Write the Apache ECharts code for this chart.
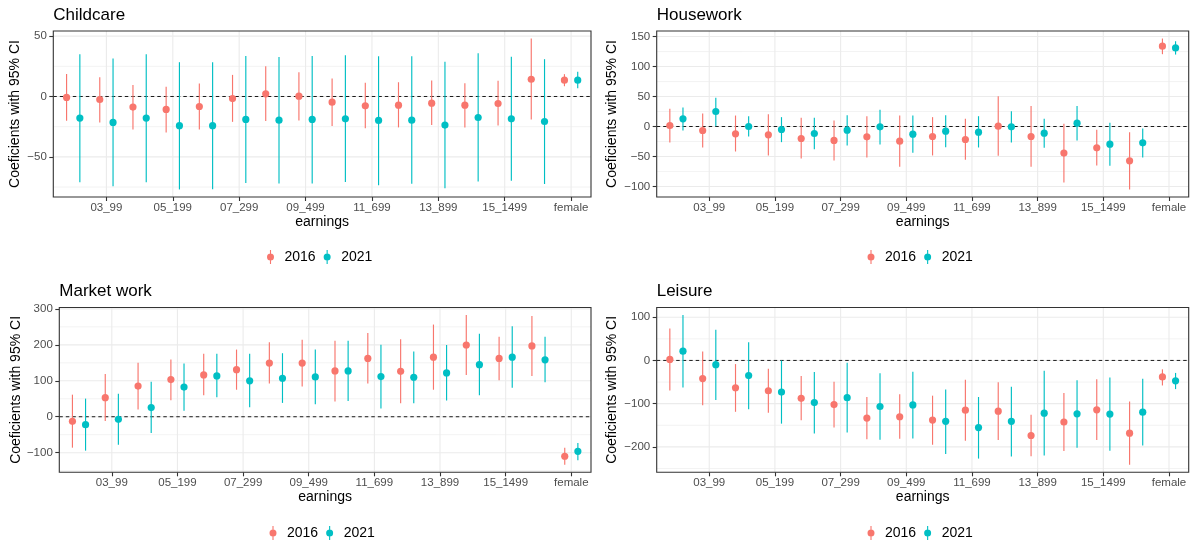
<!DOCTYPE html>
<html><head><meta charset="utf-8">
<script src="https://cdn.jsdelivr.net/npm/echarts@6/dist/echarts.min.js"></script>
<style>html,body{margin:0;padding:0;background:#fff}#c{width:1195px;height:545px}</style>
</head><body><div id="c"></div>
<script>
// ---------------- DATA ----------------
const categories = ['02_49','03_99','04_149','05_199','06_249','07_299','08_399','09_499','10_599','11_699','12_799','13_899','14_999','15_1499','16_1500','female'];
const xLabelPositions = [1,3,5,7,9,11,13,15];
const years = ['2016','2021'];

// Childcare
const childcareEst2016 = [-0.8,-2.5,-8.8,-10.7,-8.3,-1.7,2.2,0.3,-4.7,-7.7,-7.2,-5.5,-7.2,-5.8,14.3,13.5];
const childcareLo2016  = [-20,-21.5,-27.3,-29.8,-27.3,-21,-20.4,-19.8,-24.5,-26.4,-25.6,-23.7,-25.6,-24,-19,8.5];
const childcareHi2016  = [18.7,16,9.6,8,10.7,17.9,25,20,14.9,11.3,11.8,13.2,11,13,48,18.5];
const childcareEst2021 = [-17.9,-21.5,-17.9,-24.2,-24.2,-19,-19.6,-19,-18.5,-19.8,-19.6,-23.7,-17.4,-18.5,-20.7,13.5];
const childcareLo2021  = [-71,-74.4,-71,-77,-76.9,-71.6,-72,-72,-70.8,-73.6,-72.2,-76,-70.5,-69.7,-72.5,6.9];
const childcareHi2021  = [35,31.4,35,28.4,28.4,33.6,32.8,33.6,34.2,33.3,33.3,28.7,35.8,33,30.9,20.4];
const childcareTicks = [-50,0,50];
const childcareMinorTicks = [-75,-25,25];

// Housework
const houseworkEst2016 = [1.7,-6.7,-12.2,-13.9,-20,-23.3,-17.2,-24.4,-16.7,-21.7,0.6,-16.7,-44.4,-35.6,-57.2,133.9];
const houseworkLo2016  = [-26.7,-35,-41.7,-48.3,-53.3,-56.7,-51.7,-67.2,-48.3,-55.6,-48.9,-67.2,-93.3,-65,-105,120.6];
const houseworkHi2016  = [29.4,21.7,18.3,20.6,14.4,10,17.2,18.3,15.6,12.8,50.6,34.4,4.4,-5.6,-9.4,146.7];
const houseworkEst2021 = [12.8,25,0,-5,-11.7,-6.1,-0.6,-12.8,-7.8,-9.4,-0.6,-11.1,5.6,-29.4,-27.2,131.1];
const houseworkLo2021  = [-6.7,0.6,-16.7,-26.1,-37.8,-31.7,-30,-43.9,-34.4,-35,-26.7,-35.6,-23.3,-65.6,-51.7,120];
const houseworkHi2021  = [31.7,47.8,17.2,15.6,14.4,18.9,27.8,18.3,18.9,17.2,25.6,12.8,34.4,6.1,-3.3,142.2];
const houseworkTicks = [-100,-50,0,50,100,150];
const houseworkMinorTicks = [-75,-25,25,75,125];

// Market work
const marketEst2016 = [-12.8,53.1,85.2,103.5,116.3,131,149.3,149.3,127.3,162.1,126.4,165.8,199.6,162.1,196.9,-109.9];
const marketLo2016  = [-86,-11.9,20.1,45.8,59.5,75.1,92.5,84.2,42.1,92.5,37.5,75.1,116.3,101.6,113.6,-133.7];
const marketHi2016  = [61.4,119,150.2,159.3,174.9,186.8,207,214.3,211.5,232.6,215.5,256.4,283,222.5,280.2,-86];
const marketEst2021 = [-22,-7.3,25.6,82.4,113.6,99.8,107.1,110.8,127.3,111.7,109.9,121.8,144.7,165.8,158.4,-96.2];
const marketLo2021  = [-94.3,-77.8,-44.9,16.5,54,26.6,38.5,34.8,44,22.9,37.5,44.9,59.5,80.6,96.2,-120.9];
const marketHi2021  = [50.4,64.1,97.1,148.4,174.9,174.9,176.7,186.8,211.5,200.5,181.3,199.6,230.8,251.8,222.5,-73.3];
const marketTicks = [-100,0,100,200,300];
const marketMinorTicks = [-150,-50,50,150,250];

// Leisure
const leisureEst2016 = [2.3,-41.9,-63.2,-70.1,-87.6,-102,-133.3,-130.2,-137.9,-115,-117.3,-173.6,-142.4,-114.2,-168.3,-38.1];
const leisureLo2016  = [-69.3,-103.6,-118.8,-121.1,-138.6,-155.4,-182,-181.3,-195,-185.8,-184.3,-221.6,-209.4,-184.3,-241.4,-57.9];
const leisureHi2016  = [73.9,20.6,-8.4,-19,-36.1,-49.5,-84.5,-78.4,-81.5,-44.9,-50.3,-125.7,-75.4,-43.4,-95.2,-20.6];
const leisureEst2021 = [21.3,-9.9,-35,-73.1,-97.5,-86.1,-106.6,-102.8,-140.9,-155.4,-140.9,-121.9,-123.4,-124.1,-119.6,-47.2];
const leisureLo2021  = [-62.5,-91.4,-112.7,-146.2,-169.1,-166.8,-183.5,-180.5,-216.3,-227,-222.4,-220.1,-201.8,-208.7,-196.5,-66.3];
const leisureHi2021  = [105.1,70.8,41.9,0,-26.7,-5.3,-29.7,-25.9,-67,-84.5,-60.9,-23.6,-45.7,-39.6,-42.6,-28.9];
const leisureTicks = [-200,-100,0,100];
const leisureMinorTicks = [-250,-150,-50,50];

// ---------------- CHART ----------------
const FONT = '"Liberation Sans", Arial, Helvetica, sans-serif';
const COLORS = ['#F8766D', '#00BFC4'];
const DODGE = [-0.2, 0.2];
const ICON = 'path://M0.5,7 A3.5,3.5 0 1 1 7.5,7 A3.5,3.5 0 1 1 0.5,7 Z M3.45,0 H4.55 V14 H3.45 Z';
const X_RANGE = [-0.6, categories.length - 0.4];

const panels = [
  { title: 'Childcare', est: [childcareEst2016, childcareEst2021], lo: [childcareLo2016, childcareLo2021], hi: [childcareHi2016, childcareHi2021],
    ticks: childcareTicks, minor: childcareMinorTicks,
    box: { left: 53.3, top: 31, width: 537.7, height: 166 }, nameGap: 31, titleTop: 7, legendLeft: 267, legendTop: 250 },
  { title: 'Housework', est: [houseworkEst2016, houseworkEst2021], lo: [houseworkLo2016, houseworkLo2021], hi: [houseworkHi2016, houseworkHi2021],
    ticks: houseworkTicks, minor: houseworkMinorTicks,
    box: { left: 656.7, top: 31, width: 532, height: 166 }, nameGap: 37.5, titleTop: 7, legendLeft: 867.5, legendTop: 250 },
  { title: 'Market work', est: [marketEst2016, marketEst2021], lo: [marketLo2016, marketLo2021], hi: [marketHi2016, marketHi2021],
    ticks: marketTicks, minor: marketMinorTicks,
    box: { left: 59.3, top: 307.5, width: 531.7, height: 164.8 }, nameGap: 36.5, titleTop: 283, legendLeft: 269.5, legendTop: 526 },
  { title: 'Leisure', est: [leisureEst2016, leisureEst2021], lo: [leisureLo2016, leisureLo2021], hi: [leisureHi2016, leisureHi2021],
    ticks: leisureTicks, minor: leisureMinorTicks,
    box: { left: 656.7, top: 307.5, width: 532, height: 164.8 }, nameGap: 37.5, titleTop: 283, legendLeft: 867.5, legendTop: 526 }
];

function fmtNum(v) { return v < 0 ? '\u2212' + Math.abs(v) : String(v); }

function yRange(p) {
  const all = [].concat(p.lo[0], p.lo[1], p.hi[0], p.hi[1], [0]);
  const mn = Math.min.apply(null, all), mx = Math.max.apply(null, all);
  const pad = (mx - mn) * 0.05;
  return [mn - pad, mx + pad];
}

function pointRange(dodge, color) {
  return function (params, api) {
    const x = api.value(0) + dodge;
    const p = api.coord([x, api.value(1)]);
    const pl = api.coord([x, api.value(2)]);
    const ph = api.coord([x, api.value(3)]);
    return { type: 'group', children: [
      { type: 'line', shape: { x1: pl[0], y1: pl[1], x2: ph[0], y2: ph[1] }, style: { stroke: color, lineWidth: 1.15 } },
      { type: 'circle', shape: { cx: p[0], cy: p[1], r: 3.6 }, style: { fill: color } }
    ] };
  };
}

function gridRender(yr) {
  return function (params, api) {
    const kind = api.value(0), v = api.value(1);
    if (kind === 2) {
      const a = api.coord([v, yr[0]]), b = api.coord([v, yr[1]]);
      return { type: 'line', shape: { x1: a[0], y1: a[1], x2: b[0], y2: b[1] }, style: { stroke: '#EBEBEB', lineWidth: 1.1 } };
    }
    const a = api.coord([X_RANGE[0], v]), b = api.coord([X_RANGE[1], v]);
    if (kind === 3) {
      return { type: 'line', shape: { x1: a[0], y1: a[1], x2: b[0], y2: b[1] }, style: { stroke: '#1a1a1a', lineWidth: 1, lineDash: [3.5, 3] } };
    }
    return { type: 'line', shape: { x1: a[0], y1: a[1], x2: b[0], y2: b[1] },
      style: { stroke: '#EBEBEB', lineWidth: kind === 0 ? 1.1 : 0.6 } };
  };
}

const option = {
  animation: false,
  backgroundColor: '#ffffff',
  color: COLORS,
  textStyle: { fontFamily: FONT },
  title: [], grid: [], xAxis: [], yAxis: [], series: [], legend: []
};

panels.forEach(function (p, gi) {
  const yr = yRange(p);
  option.title.push({ text: p.title, left: p.box.left, top: p.titleTop, padding: 0,
    textStyle: { fontFamily: FONT, fontSize: 17, fontWeight: 'normal', color: '#000' } });
  option.grid.push(Object.assign({ show: true, borderColor: '#333333', borderWidth: 1.1, backgroundColor: 'transparent', z: 10,
    containLabel: false, outerBoundsMode: 'none' }, p.box));
  option.xAxis.push({
    type: 'value', gridIndex: gi, min: X_RANGE[0], max: X_RANGE[1], position: 'bottom',
    name: 'earnings', nameLocation: 'middle', nameGap: 17,
    nameTextStyle: { fontFamily: FONT, fontSize: 14, color: '#000' },
    axisLine: { show: false, onZero: false },
    axisTick: { show: true, inside: false, length: 4, lineStyle: { color: '#333333', width: 1.1 }, customValues: xLabelPositions },
    axisLabel: { show: true, margin: 5, fontFamily: FONT, fontSize: 11.5, color: '#4D4D4D', customValues: xLabelPositions,
      formatter: function (v) { return categories[Math.round(v)]; } },
    splitLine: { show: false }
  });
  option.yAxis.push({
    type: 'value', gridIndex: gi, min: yr[0], max: yr[1], position: 'left',
    name: 'Coeficients with 95% CI', nameLocation: 'middle', nameGap: p.nameGap,
    nameTextStyle: { fontFamily: FONT, fontSize: 14, color: '#000' },
    axisLine: { show: false, onZero: false },
    axisTick: { show: true, inside: false, length: 4, lineStyle: { color: '#333333', width: 1.1 }, customValues: p.ticks },
    axisLabel: { show: true, margin: 6.5, fontFamily: FONT, fontSize: 11.5, color: '#4D4D4D', customValues: p.ticks,
      formatter: function (v) { return fmtNum(v); } },
    splitLine: { show: false }
  });
  const gridData = [];
  p.minor.forEach(function (v) { gridData.push([1, v]); });
  p.ticks.forEach(function (v) { gridData.push([0, v]); });
  xLabelPositions.forEach(function (v) { gridData.push([2, v]); });
  gridData.push([3, 0]);
  option.series.push({ type: 'custom', name: 'grid' + gi, xAxisIndex: gi, yAxisIndex: gi, z: 1, silent: true,
    renderItem: gridRender(yr), data: gridData, encode: { x: -1, y: -1 }, tooltip: { show: false } });
  years.forEach(function (yname, k) {
    const rows = categories.map(function (c, i) { return [i, p.est[k][i], p.lo[k][i], p.hi[k][i]]; });
    option.series.push({ type: 'custom', name: yname, xAxisIndex: gi, yAxisIndex: gi, z: 2,
      itemStyle: { color: COLORS[k] },
      renderItem: pointRange(DODGE[k], COLORS[k]), data: rows,
      dimensions: ['x', 'est', 'lo', 'hi'], encode: { x: 0, y: [1, 2, 3] } });
  });
  option.legend.push({ left: p.legendLeft, top: p.legendTop, orient: 'horizontal', padding: 0,
    itemWidth: 18, itemHeight: 14, itemGap: 8, selectedMode: false,
    textStyle: { fontFamily: FONT, fontSize: 14, color: '#000' },
    data: years.map(function (y) { return { name: y, icon: ICON }; }) });
});

const chart = echarts.init(document.getElementById('c'), null, { renderer: 'canvas' });
chart.setOption(option);
</script>
</body></html>
